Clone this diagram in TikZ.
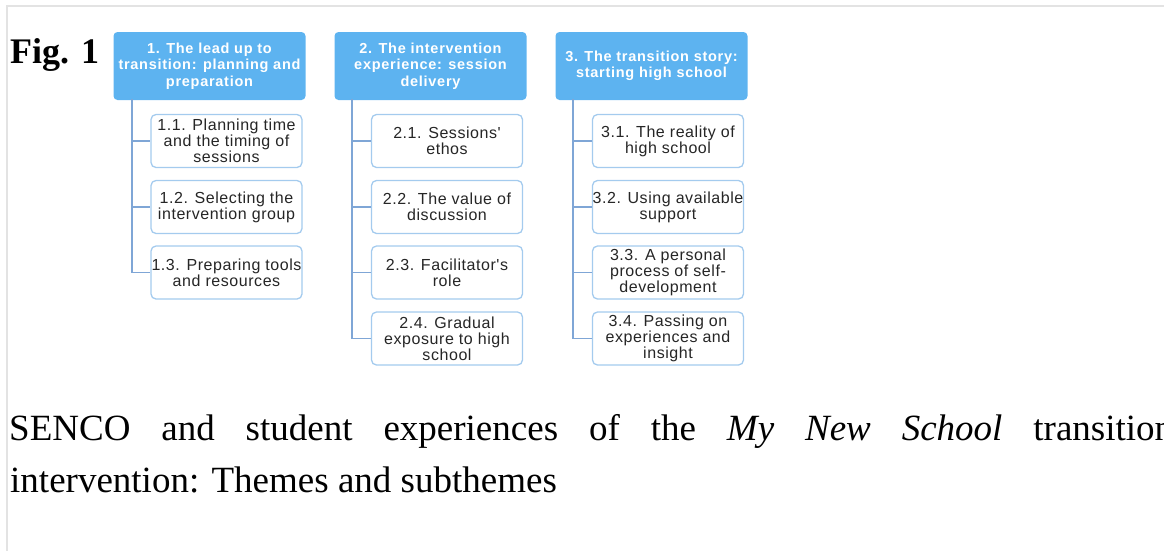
\documentclass[tikz,border=0pt]{standalone}
\usepackage{fontspec}
\setmainfont{Liberation Serif}
\newfontfamily\diagfont{Liberation Sans}[LetterSpace=5]
\newfontfamily\childfont{Liberation Sans}[LetterSpace=3.5]
\definecolor{headblue}{HTML}{5DB3F0}
\definecolor{childblue}{HTML}{A4CBEE}
\definecolor{linkblue}{HTML}{7FA6D6}
\definecolor{textgray}{HTML}{262626}
\definecolor{framegray}{HTML}{E3E3E3}
\begin{document}
\begin{tikzpicture}[x=1pt,y=-1pt,
  head/.style={rounded corners=4pt, fill=headblue, draw=none, minimum width=192pt, minimum height=68pt,
    text=white, font=\diagfont\bfseries\fontsize{14.5}{16.5}\selectfont, align=center, inner sep=0pt},
  child/.style={draw=childblue, line width=1.3pt, rounded corners=5pt, fill=white, minimum width=151pt,
    minimum height=53pt, text=textgray, font=\childfont\fontsize{16}{16}\selectfont, align=center, inner sep=0pt},
  link/.style={draw=linkblue, line width=1.8pt},
  captext/.style={anchor=base west, inner sep=0pt, font=\fontsize{37}{44}\selectfont}]
\useasboundingbox (0,0) rectangle (1164,550);
\clip (0,0) rectangle (1164,550);
\draw[framegray, line width=2pt] (7,552) -- (7,6) -- (1166,6);

\node[captext, font=\bfseries\fontsize{36}{44}\selectfont] (fig) at (10,63) {Fig. 1};

% headers
\node[head] (h1) at (209.5,66) {1. The lead up to\\transition: planning and\\preparation};
\node[head] (h2) at (430.5,66) {2. The intervention\\experience: session\\delivery};
\node[head] (h3) at (651.5,66) {3. The transition story:\\starting high school};

% column 1
\node[child] (c11) at (226.5,141) {1.1. Planning time\\and the timing of\\sessions};
\node[child] (c12) at (226.5,207) {1.2. Selecting the\\intervention group};
\node[child] (c13) at (226.5,272.5) {1.3. Preparing tools\\and resources};
% column 2
\node[child] (c21) at (447,141) {2.1. Sessions'\\ethos};
\node[child] (c22) at (447,207) {2.2. The value of\\discussion};
\node[child] (c23) at (447,272.5) {2.3. Facilitator's\\role};
\node[child] (c24) at (447,338.5) {2.4. Gradual\\exposure to high\\school};
% column 3
\node[child] (c31) at (668,141) {3.1. The reality of\\high school};
\node[child] (c32) at (668,207) {3.2. Using available\\support};
\node[child] (c33) at (668,272.5) {3.3. A personal\\process of self-\\development};
\node[child] (c34) at (668,338.5) {3.4. Passing on\\experiences and\\insight};

\coordinate (t1) at (132,99);
\coordinate (t2) at (352,99);
\coordinate (t3) at (573,99);
\foreach \c in {c11,c12,c13} \draw[link] (t1) |- (\c.west);
\foreach \c in {c21,c22,c23,c24} \draw[link] (t2) |- (\c.west);
\foreach \c in {c31,c32,c33,c34} \draw[link] (t3) |- (\c.west);

% caption
\node[captext] (cap1) at (9,440) {\hbox to 1164pt{SENCO\hfil and\hfil student\hfil experiences\hfil of\hfil the\hfil \textit{My}\hfil \textit{New}\hfil \textit{School}\hfil transition}};
\node[captext] (cap2) at (10,492) {intervention: Themes and subthemes};
\end{tikzpicture}
\end{document}
